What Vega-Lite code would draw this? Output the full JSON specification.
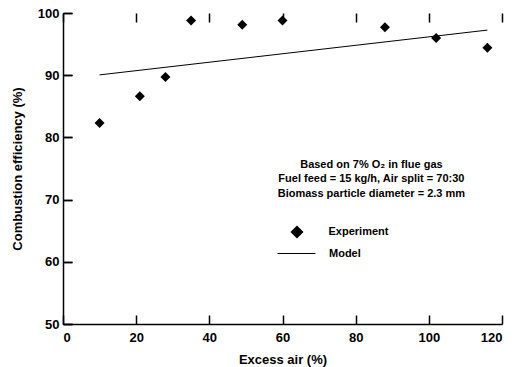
{
  "$schema": "https://vega.github.io/schema/vega-lite/v6.json",
  "width": 439,
  "height": 311,
  "autosize": "none",
  "padding": {"left": 63, "top": 13, "right": 12, "bottom": 43},
  "background": "white",
  "config": {
    "font": "Liberation Sans",
    "view": {"stroke": null},
    "axis": {
      "domainColor": "black",
      "domainWidth": 1.5,
      "tickColor": "black",
      "tickOpacity": 1,
      "tickWidth": 1.5,
      "labelColor": "black",
      "labelFont": "Liberation Sans",
      "labelFontSize": 13,
      "labelFontWeight": "bold",
      "titleColor": "black",
      "titleFont": "Liberation Sans",
      "titleFontSize": 13,
      "titleFontWeight": "bold"
    }
  },
  "datasets": {
    "exp": [
      {"air": 10, "eff": 82.3, "series": "Experiment"},
      {"air": 21, "eff": 86.6, "series": "Experiment"},
      {"air": 28, "eff": 89.7, "series": "Experiment"},
      {"air": 35, "eff": 98.8, "series": "Experiment"},
      {"air": 49, "eff": 98.1, "series": "Experiment"},
      {"air": 60, "eff": 98.8, "series": "Experiment"},
      {"air": 88, "eff": 97.7, "series": "Experiment"},
      {"air": 102, "eff": 96.0, "series": "Experiment"},
      {"air": 116, "eff": 94.4, "series": "Experiment"}
    ],
    "model": [
      {"air": 10, "eff": 90.05, "series": "Model"},
      {"air": 116, "eff": 97.25, "series": "Model"}
    ],
    "notes": [
      {"note": "Based on 7% O₂ in flue gas\nFuel feed = 15 kg/h, Air split = 70:30\nBiomass particle diameter = 2.3 mm"}
    ]
  },
  "layer": [
    {
      "data": {"name": "model"},
      "mark": {"type": "line", "strokeWidth": 1},
      "encoding": {
        "x": {
          "field": "air", "type": "quantitative",
          "scale": {"domain": [0, 120], "nice": false},
          "axis": {
            "orient": "bottom",
            "zindex": 1,
            "values": [0, 10, 20, 30, 40, 50, 60, 70, 80, 90, 100, 110, 120],
            "labelExpr": "datum.value % 20 === 0 ? datum.label : ''",
            "ticks": true,
            "tickSize": {"condition": {"test": "datum.value % 20 === 0", "value": -9}, "value": -5},
            "grid": true,
            "gridColor": "black",
            "gridOpacity": 1,
            "gridWidth": 1.5,
            "gridDash": {"condition": {"test": "datum.value % 20 === 0", "value": [9, 1000]}, "value": [5, 1000]},
            "labelPadding": 16,
            "title": "Excess air (%)",
            "titlePadding": 9
          }
        },
        "y": {
          "field": "eff", "type": "quantitative",
          "scale": {"domain": [50, 100], "nice": false, "zero": false},
          "axis": {
            "orient": "left",
            "zindex": 1,
            "values": [50, 55, 60, 65, 70, 75, 80, 85, 90, 95, 100],
            "labelExpr": "datum.value % 10 === 0 ? datum.label : ''",
            "ticks": true,
            "tickSize": {"condition": {"test": "datum.value % 10 === 0", "value": -9}, "value": -5},
            "grid": true,
            "gridColor": "black",
            "gridOpacity": 1,
            "gridWidth": 1.5,
            "gridDash": {"condition": {"test": "datum.value % 10 === 0", "value": [9, 1000]}, "value": [5, 1000]},
            "labelPadding": 13,
            "title": "Combustion efficiency (%)",
            "titlePadding": 13
          }
        },
        "color": {
          "field": "series", "type": "nominal",
          "scale": {"domain": ["Model"], "range": ["black"]},
          "legend": {
            "orient": "none",
            "legendX": 214,
            "legendY": 221,
            "padding": 0,
            "title": null,
            "symbolType": "stroke",
            "symbolSize": 1444,
            "symbolStrokeWidth": 1,
            "labelFont": "Liberation Sans",
            "labelFontSize": 11,
            "labelFontWeight": "bold",
            "labelColor": "black",
            "labelOffset": 13
          }
        }
      }
    },
    {
      "data": {"name": "notes"},
      "mark": {"type": "text", "align": "center", "baseline": "alphabetic", "lineBreak": "\n", "lineHeight": 14.5, "font": "Liberation Sans", "fontSize": 11, "fontWeight": "bold", "color": "black"},
      "encoding": {
        "x": {"datum": 84.3, "type": "quantitative"},
        "y": {"datum": 75.15, "type": "quantitative"},
        "text": {"field": "note", "type": "nominal"}
      }
    },
    {
      "data": {"name": "exp"},
      "mark": {"type": "point", "filled": true, "size": 100, "opacity": 1, "color": "black"},
      "encoding": {
        "x": {"field": "air", "type": "quantitative"},
        "y": {"field": "eff", "type": "quantitative"},
        "shape": {
          "field": "series", "type": "nominal",
          "scale": {"domain": ["Experiment"], "range": ["diamond"]},
          "legend": {
            "orient": "none",
            "legendX": 226.5,
            "legendY": 211.5,
            "padding": 0,
            "title": null,
            "symbolSize": 170,
            "symbolFillColor": "black",
            "labelFont": "Liberation Sans",
            "labelFontSize": 11,
            "labelFontWeight": "bold",
            "labelColor": "black",
            "labelOffset": 24
          }
        }
      }
    }
  ]
}
